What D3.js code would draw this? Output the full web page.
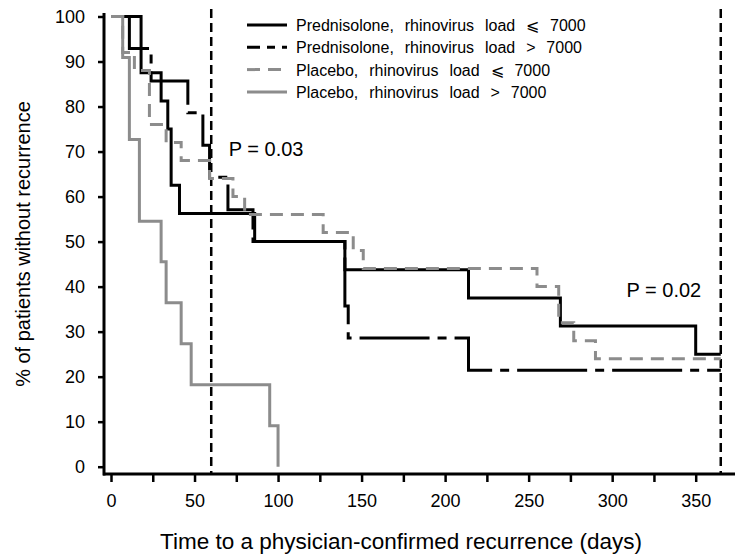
<!DOCTYPE html>
<html>
<head>
<meta charset="utf-8">
<script src="https://cdn.jsdelivr.net/npm/d3@7"></script>
<style>
  body { margin: 0; background: #fff; }
  svg { display: block; font-family: "Liberation Sans", Arial, sans-serif; }
</style>
</head>
<body>
<script>
// series: days where the step changes, and % without recurrence from that day on
let predLowDays = [0, 18, 30, 34, 36, 41, 86, 140, 214, 269, 350, 365];
let predLowPct = [100, 87.5, 81.25, 75, 62.5, 56.25, 50, 43.75, 37.5, 31.25, 25, 25];

let predHighDays = [0, 11, 24, 46, 55, 59, 70, 85, 140, 142, 214, 365];
let predHighPct = [100, 92.9, 85.7, 78.6, 71.4, 64.3, 57.1, 50, 35.7, 28.6, 21.4, 21.4];

let plaLowDays = [0, 7, 14, 23, 33, 42, 59, 73, 80, 127, 145, 151, 255, 268, 277, 290, 365];
let plaLowPct = [100, 92, 88, 76, 72, 68, 64, 60, 56, 52, 48, 44, 40, 32, 28, 24, 24];

let plaHighDays = [0, 7, 11, 17, 30, 33, 42, 48, 95, 100];
let plaHighPct = [100, 90.9, 72.7, 54.5, 45.5, 36.4, 27.3, 18.2, 9.1, 0];

let seriesNames = [
  "Prednisolone,  rhinovirus  load  \u2A7D  7000",
  "Prednisolone,  rhinovirus  load  >  7000",
  "Placebo,  rhinovirus  load  \u2A7D  7000",
  "Placebo,  rhinovirus  load  >  7000"
];

let xTicks = [0, 25, 50, 75, 100, 125, 150, 175, 200, 225, 250, 275, 300, 325, 350];
let yTicks = [0, 10, 20, 30, 40, 50, 60, 70, 80, 90, 100];
let refDays = [60, 365];
let pLabels = ["P = 0.03", "P = 0.02"];

let width = 735;
let height = 557;

// styles in legend order
let styles = [
  { color: "#000", dash: null, legendDash: null },
  { color: "#000", dash: "70,8,9,8", legendDash: "13,7,8,7" },
  { color: "#8c8c8c", dash: "13,8", legendDash: "13,8" },
  { color: "#8c8c8c", dash: null, legendDash: null }
];

let zip = (days, pct) => days.map((d, i) => ({ day: d, pct: pct[i] }));
let series = [
  zip(predLowDays, predLowPct),
  zip(predHighDays, predHighPct),
  zip(plaLowDays, plaLowPct),
  zip(plaHighDays, plaHighPct)
];

let x = d3.scaleLinear().domain([0, 350]).range([111, 695.7]);
let y = d3.scaleLinear().domain([0, 100]).range([466.7, 16.5]);

let svg = d3.select("body").append("svg")
  .attr("width", width)
  .attr("height", height);

// reference lines at 60 and 365 days
svg.append("g").selectAll("line")
  .data(refDays)
  .join("line")
  .attr("x1", d => x(d)).attr("x2", d => x(d))
  .attr("y1", 9).attr("y2", 474)
  .attr("stroke", "#000")
  .attr("stroke-width", 2.5)
  .attr("stroke-dasharray", "9,5");

// curves
let line = d3.line()
  .x(d => x(d.day))
  .y(d => y(d.pct))
  .curve(d3.curveStepAfter);

svg.append("g").selectAll("path")
  .data(series)
  .join("path")
  .attr("d", line)
  .attr("fill", "none")
  .attr("stroke", (d, i) => styles[i].color)
  .attr("stroke-width", 3)
  .attr("stroke-dasharray", (d, i) => styles[i].dash);

// axes
let xAxis = svg.append("g")
  .attr("transform", "translate(0,474)")
  .call(d3.axisBottom(x).tickValues(xTicks).tickSize(8).tickPadding(12)
    .tickFormat(d => (d % 50 === 0 ? d : "")));
xAxis.select(".domain").remove();
xAxis.selectAll(".tick line").attr("stroke-width", 2.5);
xAxis.selectAll("text").attr("font-size", 18).attr("font-family", null);
svg.append("line")
  .attr("x1", 103).attr("x2", 735)
  .attr("y1", 474).attr("y2", 474)
  .attr("stroke", "#000").attr("stroke-width", 3);

let yAxis = svg.append("g")
  .attr("transform", "translate(104,0)")
  .call(d3.axisLeft(y).tickValues(yTicks).tickSize(6).tickPadding(13));
yAxis.select(".domain").remove();
yAxis.selectAll(".tick line").attr("stroke-width", 2.5);
yAxis.selectAll("text").attr("font-size", 18).attr("font-family", null);
svg.append("line")
  .attr("x1", 104).attr("x2", 104)
  .attr("y1", 13).attr("y2", 475.5)
  .attr("stroke", "#000").attr("stroke-width", 3);

// axis titles
svg.append("text")
  .attr("x", 401).attr("y", 549)
  .attr("text-anchor", "middle")
  .attr("font-size", 22.5)
  .text("Time to a physician-confirmed recurrence (days)");

svg.append("text")
  .attr("transform", "translate(30,244) rotate(-90)")
  .attr("text-anchor", "middle")
  .attr("font-size", 20)
  .text("% of patients without recurrence");

// P values
svg.append("text")
  .attr("x", x(70.5)).attr("y", y(69))
  .attr("font-size", 20)
  .text(pLabels[0]);
svg.append("text")
  .attr("x", x(308.6)).attr("y", y(37.6))
  .attr("font-size", 20)
  .text(pLabels[1]);

// legend
let legend = svg.append("g").attr("transform", "translate(247,25)");
let rows = legend.selectAll("g")
  .data(seriesNames)
  .join("g")
  .attr("transform", (d, i) => `translate(0,${i * 22.3})`);
rows.append("line")
  .attr("x1", 0).attr("x2", 40)
  .attr("stroke", (d, i) => styles[i].color)
  .attr("stroke-width", 3)
  .attr("stroke-dasharray", (d, i) => styles[i].legendDash);
rows.append("text")
  .attr("x", 49).attr("y", 6)
  .attr("font-size", 16)
  .attr("word-spacing", 1)
  .attr("xml:space", "preserve")
  .style("white-space", "pre")
  .text(d => d);
</script>
</body>
</html>
